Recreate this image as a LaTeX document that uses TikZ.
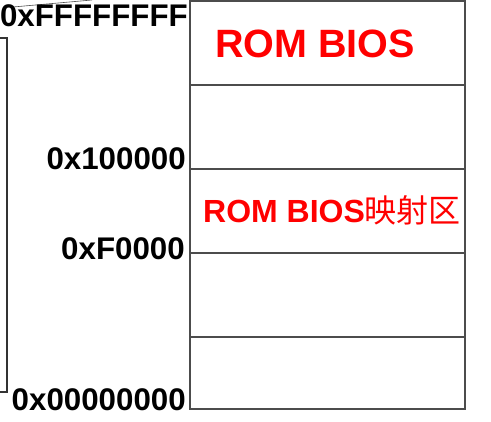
\documentclass[tikz,border=0pt]{standalone}
\usepackage{fontspec}
\setmainfont{Liberation Sans}
\newfontfamily\cjkfont{Noto Sans CJK SC}
\begin{document}
\begin{tikzpicture}[x=1pt,y=-1pt,
  frame/.style={draw=black!70,line width=1.3pt},
  addr/.style={font=\fontsize{31.3}{31.3}\selectfont\bfseries,inner sep=0pt,anchor=base east},
  region/.style={font=\fontsize{39.5}{39.5}\selectfont\bfseries,text=red,inner sep=0pt,anchor=base west},
  regionsmall/.style={font=\fontsize{32}{32}\selectfont\bfseries,text=red,inner sep=0pt,anchor=base west}]
  \useasboundingbox (0,0) rectangle (491,422);
  % memory map column
  \coordinate (tl) at (190,1);
  \coordinate (br) at (465,409);
  \draw[frame] (tl) rectangle (br);
  \foreach \yy in {85,169,253,337}
    \draw[frame] (190,\yy) -- (465,\yy);
  % left bracket
  \coordinate (b1) at (0,38);
  \coordinate (b2) at (7,38);
  \coordinate (b3) at (7,392);
  \coordinate (b4) at (0,392);
  \draw[draw=black!80,line width=1.1pt] (b1) -- (b2) -- (b3) -- (b4);
  % stray line at top
  \coordinate (s1) at (13,7);
  \coordinate (s2) at (92,0);
  \draw[black!70,line width=0.6pt] (s1) -- (s2);
  % addresses
  \node[addr] (aTop) at (188,27) {0xFFFFFFFF};
  \node[addr] (aMeg) at (186,170) {0x100000};
  \node[addr] (aF)   at (185,260) {0xF0000};
  \node[addr] (aZero) at (186,411) {0x00000000};
  % region labels
  \node[region] (rom) at (215,58) {ROM BIOS};
  \node[regionsmall] (romMap) at (203,223) {ROM BIOS{\cjkfont\mdseries 映射区}};
\end{tikzpicture}
\end{document}
